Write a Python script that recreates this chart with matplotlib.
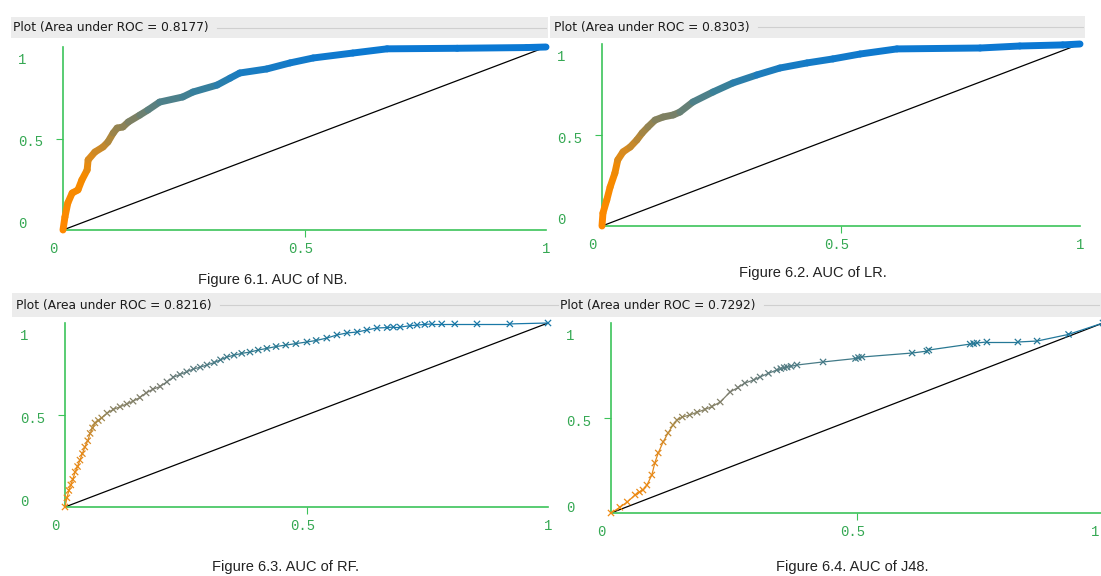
import matplotlib
matplotlib.use('Agg')
import matplotlib.pyplot as plt
import numpy as np
from matplotlib.collections import LineCollection
from matplotlib.colors import LinearSegmentedColormap
from matplotlib.patches import Rectangle

# ROC points (fpr, tpr)
nb_fpr = [0, 0.004, 0.010, 0.019, 0.031, 0.039, 0.050, 0.052, 0.066, 0.083, 0.093, 0.104, 0.112, 0.124, 0.135,
          0.159, 0.176, 0.200, 0.248, 0.269, 0.319, 0.346, 0.366, 0.422, 0.470, 0.518, 0.600, 0.671, 0.816, 0.960, 1.0]
nb_tpr = [0, 0.071, 0.148, 0.202, 0.219, 0.273, 0.328, 0.383, 0.426, 0.454, 0.481, 0.530, 0.557, 0.563, 0.590,
          0.628, 0.656, 0.699, 0.727, 0.754, 0.792, 0.830, 0.858, 0.880, 0.913, 0.940, 0.967, 0.990, 0.993, 0.997, 1.0]

lr_fpr = [0, 0.002, 0.010, 0.017, 0.027, 0.033, 0.044, 0.059, 0.073, 0.084, 0.096, 0.111, 0.128, 0.149, 0.163,
          0.190, 0.232, 0.274, 0.324, 0.372, 0.429, 0.483, 0.540, 0.617, 0.791, 0.874, 0.964, 1.0]
lr_tpr = [0, 0.071, 0.143, 0.214, 0.291, 0.363, 0.407, 0.434, 0.473, 0.511, 0.544, 0.582, 0.599, 0.610, 0.626,
          0.681, 0.736, 0.786, 0.830, 0.868, 0.896, 0.918, 0.945, 0.973, 0.978, 0.989, 0.995, 1.0]

rf_fpr = [0, 0.004, 0.008, 0.012, 0.016, 0.021, 0.026, 0.031, 0.036, 0.041, 0.047, 0.052, 0.057, 0.062, 0.069,
          0.076, 0.087, 0.100, 0.114, 0.128, 0.141, 0.155, 0.168, 0.182, 0.197, 0.211, 0.224, 0.238, 0.252, 0.266,
          0.280, 0.294, 0.309, 0.322, 0.335, 0.350, 0.366, 0.383, 0.400, 0.418, 0.437, 0.457, 0.478, 0.501, 0.520,
          0.542, 0.563, 0.584, 0.605, 0.625, 0.646, 0.667, 0.680, 0.694, 0.714, 0.729, 0.745, 0.760, 0.780, 0.807,
          0.853, 0.921, 1.0]
rf_tpr = [0, 0.05, 0.09, 0.12, 0.15, 0.19, 0.22, 0.255, 0.29, 0.326, 0.36, 0.40, 0.43, 0.457, 0.47,
          0.484, 0.51, 0.53, 0.545, 0.56, 0.575, 0.595, 0.62, 0.64, 0.655, 0.68, 0.705, 0.72, 0.735, 0.75,
          0.76, 0.772, 0.785, 0.80, 0.815, 0.825, 0.835, 0.842, 0.853, 0.862, 0.872, 0.880, 0.888, 0.897, 0.905,
          0.918, 0.935, 0.946, 0.951, 0.962, 0.973, 0.975, 0.978, 0.978, 0.985, 0.989, 0.992, 0.995, 0.995, 0.995,
          0.995, 0.995, 1.0]

j48_fpr = [0, 0.018, 0.033, 0.049, 0.058, 0.065, 0.073, 0.083, 0.089, 0.096, 0.106, 0.116, 0.126, 0.134, 0.145,
           0.160, 0.175, 0.191, 0.205, 0.222, 0.242, 0.258, 0.272, 0.290, 0.303, 0.320, 0.337, 0.345, 0.352, 0.358,
           0.366, 0.378, 0.431, 0.497, 0.503, 0.510, 0.612, 0.642, 0.646, 0.730, 0.737, 0.744, 0.764, 0.827, 0.866,
           0.93, 1.0]
j48_tpr = [0, 0.03, 0.058, 0.095, 0.11, 0.121, 0.147, 0.2, 0.263, 0.316, 0.374, 0.421, 0.463, 0.489, 0.505,
           0.516, 0.53, 0.545, 0.56, 0.584, 0.637, 0.66, 0.684, 0.70, 0.716, 0.735, 0.753, 0.76, 0.765, 0.768,
           0.772, 0.779, 0.795, 0.813, 0.818, 0.821, 0.842, 0.852, 0.858, 0.889, 0.892, 0.895, 0.9, 0.9, 0.905,
           0.94, 1.0]

auc = ['0.8177', '0.8303', '0.8216', '0.7292']
captions = ['Figure 6.1. AUC of NB.', 'Figure 6.2. AUC of LR.', 'Figure 6.3. AUC of RF.', 'Figure 6.4. AUC of J48.']
ytick_labels = ['0', '0.5', '1']
xtick_labels = ['0', '0.5', '1']

W, H = 1101, 576
GREEN = '#3cc35a'
LABEL_GREEN = '#35a853'

# weka-ish threshold colouring: orange -> grey -> blue
cmap = LinearSegmentedColormap.from_list('weka', [
    (0.0, '#ff8800'), (0.30, '#f58a00'), (0.42, '#d68a20'), (0.52, '#a88640'),
    (0.60, '#808060'), (0.68, '#5a8080'), (0.76, '#3a8098'), (0.86, '#1a7cc0'),
    (1.0, '#0a78d4')])
# the thin x-marker plots read duller / greyer
cmap_thin = LinearSegmentedColormap.from_list('weka_thin', [
    (0.0, '#f08a10'), (0.35, '#e08a20'), (0.46, '#b08a40'), (0.52, '#8a8462'),
    (0.65, '#7a7c70'), (0.75, '#5a7c80'), (0.86, '#2a7890'), (1.0, '#1a78a8')])

fig = plt.figure(figsize=(W / 100, H / 100), dpi=100)
fig.patch.set_facecolor('white')


def fx(px):
    return px / W


def fy(py):
    return 1 - py / H


def title_bar(xs, xe, yt, yb, tx, text):
    fig.add_artist(Rectangle((fx(xs), fy(yb)), (xe - xs) / W, (yb - yt) / H,
                             transform=fig.transFigure, facecolor='#ececec', edgecolor='none', zorder=0))
    yc = (yt + yb) / 2
    t = fig.text(fx(tx), fy(yc), text, ha='left', va='center', fontsize=8.8,
                 family='DejaVu Sans', color='#1a1a1a')
    fig.canvas.draw()
    ext = t.get_window_extent()
    fig.add_artist(plt.Line2D([fx(ext.x1 + 8), fx(xe - 2)], [fy(yc), fy(yc)],
                              transform=fig.transFigure, color='#cfcfcf', lw=0.8))


def panel(x0, x1, y0, y1, fpr, tpr, thick, last_dx=0):
    ax = fig.add_axes([fx(x0), fy(y0), (x1 - x0) / W, (y0 - y1) / H])
    ax.set_xlim(0, 1)
    ax.set_ylim(0, 1)
    ax.patch.set_alpha(0)
    for s in ['top', 'right']:
        ax.spines[s].set_visible(False)
    for s in ['left', 'bottom']:
        ax.spines[s].set_color(GREEN)
        ax.spines[s].set_linewidth(1.2)
    ax.set_xticks([0.5])
    ax.set_yticks([0.5])
    ax.set_xticklabels([])
    ax.set_yticklabels([])
    ax.tick_params(length=5, width=0.8, color=GREEN)

    # tick labels placed like weka does it
    for v, lab, off in zip([0, 0.5, 1], ytick_labels, [(-41, 5.5), (-32, -4), (-41, -13)]):
        ax.annotate(lab, xy=(0, v), xytext=off, textcoords='offset pixels', ha='center', va='center',
                    fontsize=10, family='Liberation Mono', color=LABEL_GREEN, annotation_clip=False)
    for v, lab, off in zip([0, 0.5, 1], xtick_labels, [(-10, -19), (-4, -19), (last_dx, -19)]):
        ax.annotate(lab, xy=(v, 0), xytext=off, textcoords='offset pixels', ha='center', va='center',
                    fontsize=10, family='Liberation Mono', color=LABEL_GREEN, annotation_clip=False)

    ax.plot([0, 1], [0, 1], color='black', lw=0.9, clip_on=False, zorder=2)

    x = np.array(fpr)
    y = np.array(tpr)
    segs = np.stack([np.column_stack([x[:-1], y[:-1]]), np.column_stack([x[1:], y[1:]])], axis=1)
    if thick:
        cols = cmap((y[:-1] + y[1:]) / 2)
        lc = LineCollection(segs, colors=cols, linewidths=5, capstyle='round', clip_on=False, zorder=3)
        ax.add_collection(lc)
    else:
        cols = cmap_thin((y[:-1] + y[1:]) / 2)
        lc = LineCollection(segs, colors=cols, linewidths=0.9, clip_on=False, zorder=3)
        ax.add_collection(lc)
        ax.scatter(x, y, marker='x', s=20, c=cmap_thin(y), linewidths=0.9, clip_on=False, zorder=4)
    return ax


title_bar(11, 548, 17, 38, 13, 'Plot (Area under ROC = ' + auc[0] + ')')
title_bar(550, 1085, 16, 38, 554, 'Plot (Area under ROC = ' + auc[1] + ')')
title_bar(12, 560, 293, 317, 16, 'Plot (Area under ROC = ' + auc[2] + ')')
title_bar(550, 1101, 293, 317, 560, 'Plot (Area under ROC = ' + auc[3] + ')')

panel(63, 546, 230, 47, nb_fpr, nb_tpr, True)
panel(602, 1080, 226, 44, lr_fpr, lr_tpr, True)
panel(65, 548, 507, 323, rf_fpr, rf_tpr, False)
panel(611, 1103, 513, 323, j48_fpr, j48_tpr, False, last_dx=-8)

for (cx, cy), cap in zip([(273, 280), (813, 273), (286, 567), (852, 567)], captions):
    fig.text(fx(cx), fy(cy), cap, ha='center', va='center', fontsize=10.5,
             family='Liberation Sans', color='#222222')

fig.savefig('out.png', dpi=100)
